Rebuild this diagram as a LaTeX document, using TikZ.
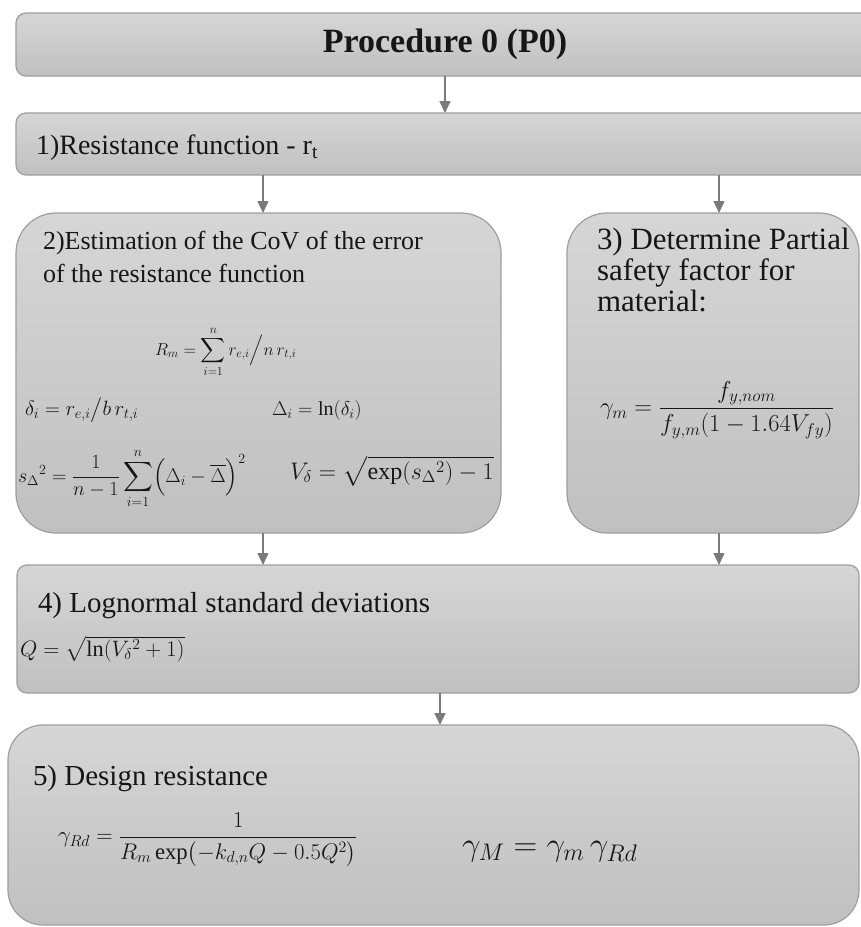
\RequirePackage{fix-cm}
\documentclass[tikz,border=0pt]{standalone}
\usepackage{amsmath}
\usepackage{fontspec}
\setmainfont{Liberation Serif}
\usetikzlibrary{arrows.meta}
\definecolor{boxtop}{RGB}{214,214,214}
\definecolor{boxbot}{RGB}{192,192,192}
\definecolor{boxedge}{RGB}{158,158,158}
\definecolor{arrowc}{RGB}{122,122,122}
\definecolor{txt}{RGB}{22,22,22}
\newcommand{\subbig}[1]{\hbox{\fontsize{24}{27}\selectfont$#1$}}
\tikzset{
  panel/.style={draw=boxedge, line width=1.2pt, top color=boxtop, bottom color=boxbot,
    inner sep=0pt, outer sep=0pt, anchor=north west},
  flow/.style={draw=arrowc, line width=1.5pt, -{Triangle[width=11pt,length=12pt]}},
  lbl/.style={inner sep=0pt, outer sep=0pt, anchor=base west, text=txt,
    font=\fontsize{26}{30}\selectfont, transform shape},
  eq/.style={inner sep=0pt, outer sep=0pt, anchor=base west, text=txt,
    font=\fontsize{20.7}{24}\selectfont},
}
\begin{document}
\begin{tikzpicture}[x=1pt,y=-1pt]
\clip (0,0) rectangle (861,927);
\fill[white] (0,0) rectangle (861,927);

% boxes
\node[panel, rounded corners=10pt, minimum width=860pt, minimum height=63pt] (p0) at (16,13) {};
\node[panel, rounded corners=10pt, minimum width=860pt, minimum height=62pt] (b1) at (16,113) {};
\node[panel, rounded corners=40pt, minimum width=485pt, minimum height=320pt] (b2) at (16,213) {};
\node[panel, rounded corners=40pt, minimum width=292pt, minimum height=320pt] (b3) at (567,213) {};
\node[panel, rounded corners=10pt, minimum width=842pt, minimum height=128pt] (b4) at (17,565) {};
\node[panel, rounded corners=35pt, minimum width=851pt, minimum height=200pt] (b5) at (8,725) {};

% arrow columns
\coordinate (xa) at (445,0);
\coordinate (xl) at (263,0);
\coordinate (xr) at (719,0);
\coordinate (xb) at (440,0);
\draw[flow] (p0.south -| xa) -- (b1.north -| xa);
\draw[flow] (b1.south -| xl) -- (b2.north -| xl);
\draw[flow] (b1.south -| xr) -- (b3.north -| xr);
\draw[flow] (b2.south -| xl) -- (b4.north -| xl);
\draw[flow] (b3.south -| xr) -- (b4.north -| xr);
\draw[flow] (b4.south -| xb) -- (b5.north -| xb);

% texts
\node[inner sep=0pt, text=txt, font=\fontsize{34}{38}\selectfont\bfseries] (t0) at (445,44) {Procedure 0 (P0)};
\node[lbl, scale=1.077] (t1) at (36,154) {1)Resistance function - r\textsubscript{t}};

\node[lbl] (t2a) at (43,249) {2)Estimation of the CoV of the error};
\node[lbl] (t2b) at (43,282) {of the resistance function};

\node[lbl, scale=1.19] (t3a) at (597,249) {3) Determine Partial};
\node[lbl, scale=1.19] (t3b) at (597,280) {safety factor for};
\node[lbl, scale=1.19] (t3c) at (597,311) {material:};

\node[lbl, scale=1.115] (t4) at (38,612) {4) Lognormal standard deviations};
\node[lbl, scale=1.115] (t5) at (33,785) {5) Design resistance};

% formulas box 2
\node[eq, font=\fontsize{17.3}{21}\selectfont] (f1) at (155,355) {$R_m = \displaystyle\sum_{i=1}^{n} r_{e,i}\Big/ n\,r_{t,i}$};
\node[eq] (f2) at (25,415) {$\delta_i = r_{e,i}\big/ b\,r_{t,i}$};
\node[eq, font=\fontsize{20}{24}\selectfont] (f3) at (272,415) {$\Delta_i = \ln(\delta_i)$};
\node[eq, font=\fontsize{20}{24}\selectfont] (f4) at (18,482) {$s_{\Delta}{}^{2} = \dfrac{1}{n-1}\displaystyle\sum_{i=1}^{n}\Bigl(\Delta_i - \overline{\Delta}\Bigr)^{2}$};
\node[eq, font=\fontsize{24}{28}\selectfont] (f5) at (290,479) {$V_\delta = \sqrt{\exp(s_{\Delta}{}^{2}) - 1}$};

% formula box 3
\node[eq, anchor=west, font=\fontsize{24.5}{28}\selectfont] (f6) at (600,410) {$\gamma_m = \dfrac{f_{y,nom}}{f_{y,m}(1-1.64V_{fy})}$};

% formula box 4
\node[eq, font=\fontsize{22.3}{26}\selectfont] (f7) at (20,656) {$Q = \sqrt{\ln(V_\delta{}^{2}+1)}$};

% formulas box 5
\node[eq, anchor=west, font=\fontsize{22.7}{26}\selectfont] (f8) at (58,840) {$\gamma_{Rd} = \dfrac{1}{R_m\exp\bigl(-k_{d,n}Q - 0.5Q^{2}\bigr)}$};
\node[eq, anchor=west, font=\fontsize{33}{38}\selectfont] (f9) at (462,852) {$\gamma_{\subbig{M}} = \gamma_{\subbig{m}}\,\gamma_{\subbig{Rd}}$};
\end{tikzpicture}
\end{document}
